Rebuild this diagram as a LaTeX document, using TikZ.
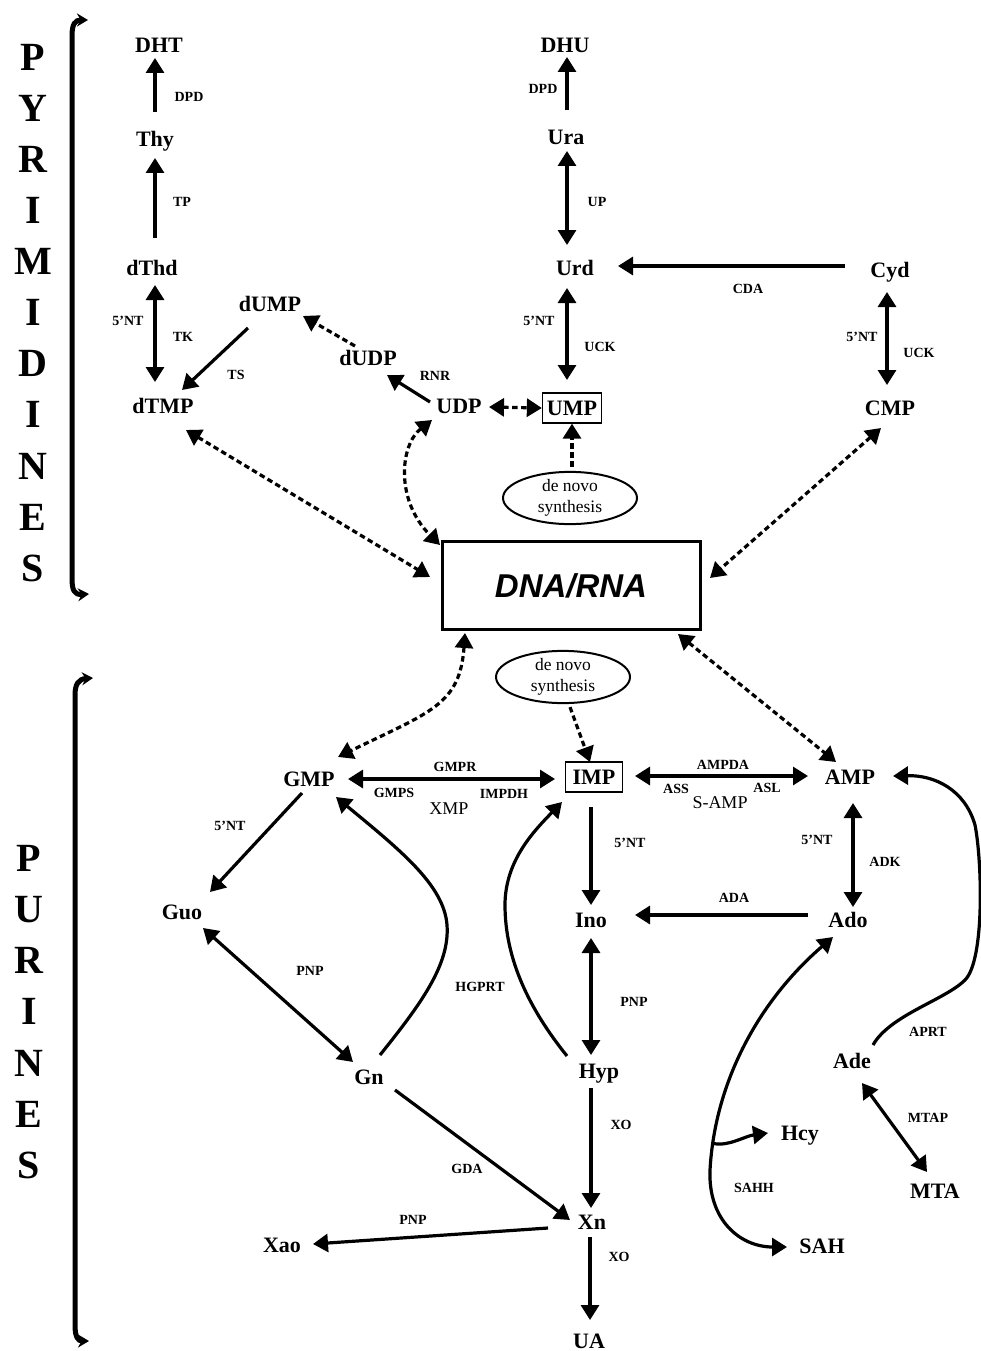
\documentclass[tikz,border=0pt]{standalone}
\usepackage{fontspec}
\setmainfont{Liberation Serif}
\newfontfamily\dnafont{Liberation Sans}
\usetikzlibrary{arrows.meta,shapes.geometric,calc}
\begin{document}
\begin{tikzpicture}[x=1pt,y=-1pt,
  >={Triangle[length=15pt,width=18pt]},
  met/.style={font=\bfseries\fontsize{22}{24}\selectfont, inner sep=0pt, text height=15pt, text depth=0pt},
  boxed/.style={draw, line width=1.3pt, minimum height=30pt},
  enz/.style={font=\bfseries\fontsize{14}{16}\selectfont, inner sep=0pt},
  inter/.style={font=\fontsize{18}{20}\selectfont, inner sep=0pt},
  big/.style={font=\bfseries\fontsize{40}{44}\selectfont, inner sep=0pt, text height=26.5pt, text depth=0pt},
  conn/.style={line width=3.2pt, ->},
  bi/.style={line width=3.2pt, <->},
  dsh/.style={dash pattern=on 5.5pt off 3.5pt},
  brk/.style={line width=5pt, {Stealth[length=11pt,width=13pt]}-{Stealth[length=11pt,width=13pt]}},
  ell/.style={ellipse, draw, line width=2pt, inner sep=0pt, minimum width=134pt, minimum height=52pt, align=center, font=\fontsize{17.5}{21}\selectfont}
]
\fill[white] (0,0) rectangle (980,1351);
\useasboundingbox (0,0) rectangle (980,1351);

% side titles
\foreach \c [count=\i] in {P,Y,R,I,M,I,D,I,N,E,S}
  \node[big] (py\i) at (33,{57+51.1*(\i-1)}) {\c};
\foreach \c [count=\i] in {P,U,R,I,N,E,S}
  \node[big] (pu\i) at (29,{858+51.2*(\i-1)}) {\c};
\draw[brk] (89,594) .. controls (74,595) and (72,590) .. (72,578) -- (72,36) .. controls (72,24) and (75,20) .. (88,20);
\draw[brk] (93,678) .. controls (78,679) and (75,685) .. (75,695) -- (75,1325) .. controls (75,1337) and (78,1341) .. (89,1341);

% pyrimidine nodes
\node[met] (DHT) at (159,45) {DHT};
\node[met] (Thy) at (155,139) {Thy};
\node[met] (dThd) at (152,268) {dThd};
\node[met] (dTMP) at (163,406) {dTMP};
\node[met] (dUMP) at (270,304) {dUMP};
\node[met] (dUDP) at (368,358) {dUDP};
\node[met] (UDP) at (459,406) {UDP};
\node[met,boxed,minimum width=59pt] (UMP) at (572,408) {UMP};
\node[met] (DHU) at (565,45) {DHU};
\node[met] (Ura) at (566,137) {Ura};
\node[met] (Urd) at (575,268) {Urd};
\node[met] (Cyd) at (890,270) {Cyd};
\node[met] (CMP) at (890,408) {CMP};
\node[ell] (en1) at (570,498) {de novo\\synthesis};
\node[draw, line width=3pt, minimum width=258pt, minimum height=88pt, inner sep=0pt,
      text height=24pt, text depth=0pt,
      font=\dnafont\bfseries\itshape\fontsize{33}{36}\selectfont] (DNA) at (571,585) {DNA/RNA};

% purine nodes
\node[ell] (en2) at (563,677) {de novo\\synthesis};
\node[met] (GMP) at (309,779) {GMP};
\node[met,boxed,minimum width=57pt] (IMP) at (594,777) {IMP};
\node[met] (AMP) at (850,777) {AMP};
\node[met] (Guo) at (182,912) {Guo};
\node[met] (Ino) at (591,920) {Ino};
\node[met] (Ado) at (848,920) {Ado};
\node[met] (Gn) at (369,1077) {Gn};
\node[met] (Hyp) at (599,1071) {Hyp};
\node[met] (Ade) at (852,1061) {Ade};
\node[met] (Hcy) at (800,1133) {Hcy};
\node[met] (MTA) at (935,1191) {MTA};
\node[met] (SAH) at (822,1246) {SAH};
\node[met] (Xn) at (592,1222) {Xn};
\node[met] (Xao) at (282,1245) {Xao};
\node[met] (UA) at (589,1341) {UA};

% enzyme labels
\node[enz] (e1) at (189,97) {DPD};
\node[enz] (e2) at (182,202) {TP};
\node[enz] (e3) at (128,321) {5’NT};
\node[enz] (e4) at (183,337) {TK};
\node[enz] (e5) at (236,375) {TS};
\node[enz] (e6) at (435,376) {RNR};
\node[enz] (e7) at (543,89) {DPD};
\node[enz] (e8) at (597,202) {UP};
\node[enz] (e9) at (539,321) {5’NT};
\node[enz] (e10) at (600,347) {UCK};
\node[enz] (e11) at (748,289) {CDA};
\node[enz] (e12) at (862,337) {5’NT};
\node[enz] (e13) at (919,353) {UCK};
\node[enz] (e14) at (455,767) {GMPR};
\node[enz] (e15) at (394,793) {GMPS};
\node[enz] (e16) at (504,794) {IMPDH};
\node[enz] (e17) at (230,826) {5’NT};
\node[enz] (e18) at (310,971) {PNP};
\node[enz] (e19) at (480,987) {HGPRT};
\node[enz] (e20) at (723,765) {AMPDA};
\node[enz] (e21) at (676,789) {ASS};
\node[enz] (e22) at (767,788) {ASL};
\node[enz] (e23) at (630,843) {5’NT};
\node[enz] (e24) at (817,840) {5’NT};
\node[enz] (e25) at (885,862) {ADK};
\node[enz] (e26) at (734,898) {ADA};
\node[enz] (e27) at (634,1002) {PNP};
\node[enz] (e28) at (621,1125) {XO};
\node[enz] (e29) at (928,1032) {APRT};
\node[enz] (e30) at (928,1118) {MTAP};
\node[enz] (e31) at (754,1188) {SAHH};
\node[enz] (e32) at (467,1169) {GDA};
\node[enz] (e33) at (413,1220) {PNP};
\node[enz] (e34) at (619,1257) {XO};
\node[inter] (x1) at (449,809) {XMP};
\node[inter] (x2) at (720,803) {S-AMP};

% pyrimidine connectors
\draw[conn] ($(Thy)+(0,-27)$) -- ($(DHT)+(-4,13)$);
\draw[conn] ($(dThd)+(3,-30)$) -- ($(Thy)+(0,19)$);
\draw[bi] ($(dThd)+(3,17)$) -- ($(dTMP)+(-8,-24)$);
\draw[conn] ($(dUMP)+(-22,24)$) -- ($(dTMP)+(19,-16)$);
\draw[conn,dsh] ($(dUDP)+(-13,-12)$) -- ($(dUMP)+(33,12)$);
\draw[conn] ($(UDP)+(-29,-4)$) -- ($(dUDP)+(19,17)$);
\draw[bi,dsh] ($(UDP)+(30,1)$) -- (UMP.west);
\draw[conn] ($(Ura)+(1,-27)$) -- ($(DHU)+(2,12)$);
\draw[bi] ($(Ura)+(1,14)$) -- ($(Urd)+(-8,-23)$);
\draw[bi] ($(Urd)+(-8,20)$) -- ($(UMP)+(-5,-28)$);
\draw[conn] ($(Cyd)+(-45,-4)$) -- ($(Urd)+(43,-2)$);
\draw[bi] ($(Cyd)+(-3,22)$) -- ($(CMP)+(-3,-23)$);
\draw[conn,dsh] ($(en1.north)+(2,-4)$) -- (UMP.south);
\draw[bi,dsh] ($(dTMP)+(23,24)$) -- ($(DNA)+(-141,-8)$);
\draw[bi,dsh] ($(UDP)+(-27,14)$) .. controls (400,445) and (395,500) .. ($(DNA)+(-131,-40)$);
\draw[bi,dsh] ($(CMP)+(-9,20)$) -- ($(DNA)+(139,-7)$);

% purine connectors
\draw[bi,dsh] ($(DNA)+(-106,48)$) .. controls (460,705) and (430,712) .. ($(GMP)+(29,-22)$);
\draw[conn,dsh] ($(en2.south)+(7,3)$) -- ($(IMP)+(-4,-15)$);
\draw[bi,dsh] ($(DNA)+(107,49)$) -- ($(AMP)+(-14,-15)$);
\draw[bi] ($(GMP)+(39,0)$) -- ($(IMP)+(-39,2)$);
\draw[bi] ($(IMP)+(41,-1)$) -- ($(AMP)+(-42,-1)$);
\draw[conn] ($(GMP)+(-7,14)$) -- ($(Guo)+(28,-20)$);
\draw[bi] ($(Guo)+(21,16)$) -- ($(Gn)+(-16,-15)$);
\draw[conn] ($(Gn)+(11,-22)$) .. controls (420,1005) and (450,965) .. (447,925)
   .. controls (444,885) and (400,850) .. ($(GMP)+(27,18)$);
\draw[conn] ($(Hyp)+(-32,-15)$) .. controls (530,1010) and (505,960) .. (505,905)
   .. controls (505,860) and (535,830) .. ($(IMP)+(-32,25)$);
\draw[conn] ($(IMP)+(-3,30)$) -- ($(Ino)+(0,-15)$);
\draw[conn] ($(Ado)+(-40,-5)$) -- ($(Ino)+(44,-5)$);
\draw[bi] ($(AMP)+(3,26)$) -- ($(Ado)+(5,-13)$);
\draw[bi] ($(Ino)+(0,18)$) -- ($(Hyp)+(-8,-16)$);
\draw[conn] ($(Hyp)+(-8,17)$) -- ($(Xn)+(-1,-14)$);
\draw[conn] ($(Gn)+(26,13)$) -- ($(Xn)+(-22,-2)$);
\draw[conn] ($(Xn)+(-44,6)$) -- ($(Xao)+(31,-1)$);
\draw[conn] ($(Xn)+(-2,15)$) -- ($(UA)+(1,-21)$);
\draw[conn] ($(Ade)+(21,-16)$) .. controls (890,1015) and (945,1000) .. (965,980)
   .. controls (985,960) and (982,860) .. (975,825)
   .. controls (965,790) and (935,775) .. ($(AMP)+(43,-1)$);
\draw[bi] ($(Ado)+(-15,17)$) .. controls (760,1000) and (715,1080) .. coordinate[pos=0.9] (br) (710,1170)
   .. controls (708,1220) and (740,1247) .. ($(SAH)+(-35,1)$);
\draw[conn] (br) .. controls (728,1147) and (745,1136) .. ($(Hcy)+(-32,0)$);
\draw[bi] ($(Ade)+(10,22)$) -- ($(MTA)+(-8,-19)$);
\end{tikzpicture}
\end{document}
